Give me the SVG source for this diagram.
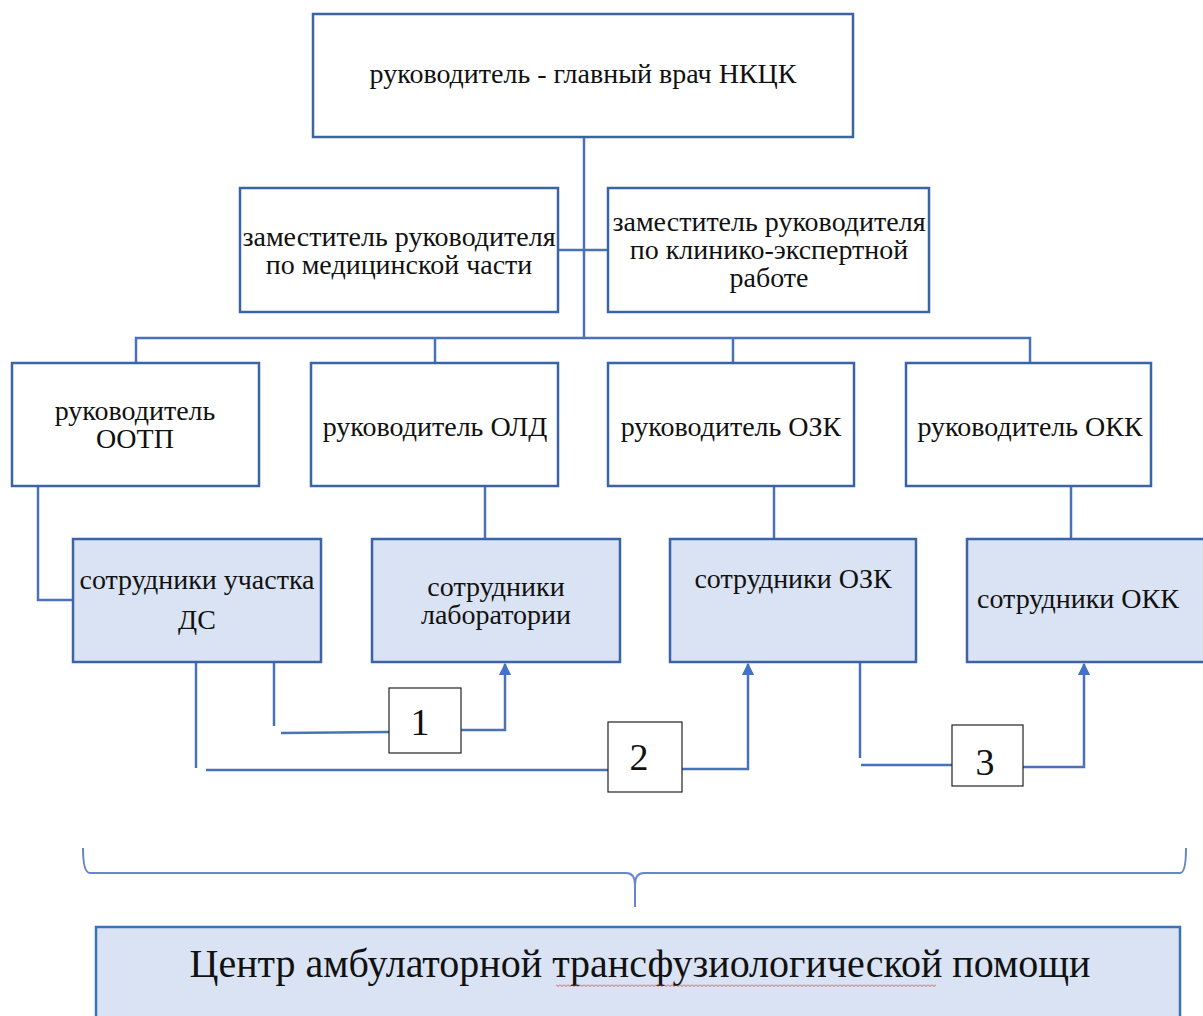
<svg xmlns="http://www.w3.org/2000/svg" width="1203" height="1016" viewBox="0 0 1203 1016">
<style>
.box{fill:#ffffff;stroke:#3b64a8;stroke-width:2.5}
.sbox{fill:#dae3f3;stroke:#3b64a8;stroke-width:2.5}
.nbox{fill:#ffffff;stroke:#222222;stroke-width:1.2}
.ln{fill:none;stroke:#4a72b8;stroke-width:2.5}
</style>
<defs>
<marker id="arr" viewBox="0 0 10 10" refX="9" refY="5" markerWidth="5" markerHeight="5" orient="auto" markerUnits="strokeWidth">
<path d="M0,0 L10,5 L0,10 z" fill="#4472c4"/>
</marker>
<pattern id="wavy" x="0" y="0" width="4" height="4" patternUnits="userSpaceOnUse">
<path d="M0,0.5 L2,2.5 L4,0.5" fill="none" stroke="#d04040" stroke-width="0.9"/>
</pattern>
</defs>
<rect width="1203" height="1016" fill="#ffffff"/>

<g id="connectors">
<path class="ln" d="M584,137 V338"/>
<path class="ln" d="M558,250 H608"/>
<path class="ln" d="M136,363 V338 H1030 V363"/>
<path class="ln" d="M435,338 V363"/>
<path class="ln" d="M733,338 V363"/>
<path class="ln" d="M38,486 V600 H73"/>
<path class="ln" d="M485,486 V539"/>
<path class="ln" d="M774,486 V539"/>
<path class="ln" d="M1071,486 V539"/>
<path class="ln" d="M274,662 V726"/>
<path class="ln" d="M281,733 L389,732"/>
<path class="ln" d="M461,730 H505 V664" marker-end="url(#arr)"/>
<path class="ln" d="M196,662 V768"/>
<path class="ln" d="M206,770 H608"/>
<path class="ln" d="M682,769 H748 V664" marker-end="url(#arr)"/>
<path class="ln" d="M860,662 V758"/>
<path class="ln" d="M861,765 H952"/>
<path class="ln" d="M1023,767 H1084 V664" marker-end="url(#arr)"/>
<path fill="none" stroke="#6a86c8" stroke-width="2" d="M83,848 Q83,873 90,873 H626 Q635,873 635,885 V907 M635,885 Q635,873 644,873 H1180 Q1186,873 1186,848"/>
</g>

<g id="n-head"><rect class="box" x="313" y="14" width="540" height="123"/><text x="583" y="83" font-family="Liberation Serif" font-size="28" fill="#111" text-anchor="middle">руководитель - главный врач НКЦК</text></g>
<g id="n-dep-med"><rect class="box" x="240" y="188" width="318" height="124"/><text x="399" y="246" font-family="Liberation Serif" font-size="28" fill="#111" text-anchor="middle">заместитель руководителя</text><text x="399" y="274" font-family="Liberation Serif" font-size="28" fill="#111" text-anchor="middle">по медицинской части</text></g>
<g id="n-dep-kli"><rect class="box" x="608" y="188" width="321" height="124"/><text x="769" y="231" font-family="Liberation Serif" font-size="28" fill="#111" text-anchor="middle">заместитель руководителя</text><text x="769" y="259" font-family="Liberation Serif" font-size="28" fill="#111" text-anchor="middle">по клинико-экспертной</text><text x="769" y="287" font-family="Liberation Serif" font-size="28" fill="#111" text-anchor="middle">работе</text></g>

<g id="n-ootp"><rect class="box" x="12" y="363" width="247" height="123"/><text x="135" y="420" font-family="Liberation Serif" font-size="28" fill="#111" text-anchor="middle">руководитель</text><text x="135" y="448" font-family="Liberation Serif" font-size="28" fill="#111" text-anchor="middle">ООТП</text></g>
<g id="n-old"><rect class="box" x="311" y="363" width="247" height="123"/><text x="435" y="436" font-family="Liberation Serif" font-size="28" fill="#111" text-anchor="middle">руководитель ОЛД</text></g>
<g id="n-ozk"><rect class="box" x="608" y="363" width="246" height="123"/><text x="731" y="436" font-family="Liberation Serif" font-size="28" fill="#111" text-anchor="middle">руководитель ОЗК</text></g>
<g id="n-okk"><rect class="box" x="906" y="363" width="245" height="123"/><text x="1030" y="436" font-family="Liberation Serif" font-size="28" fill="#111" text-anchor="middle">руководитель ОКК</text></g>

<g id="n-ds"><rect class="sbox" x="73" y="539" width="248" height="123"/><text x="197" y="589" font-family="Liberation Serif" font-size="28" fill="#111" text-anchor="middle">сотрудники участка</text><text x="197" y="629" font-family="Liberation Serif" font-size="28" fill="#111" text-anchor="middle">ДС</text></g>
<g id="n-lab"><rect class="sbox" x="372" y="539" width="248" height="123"/><text x="496" y="596" font-family="Liberation Serif" font-size="28" fill="#111" text-anchor="middle">сотрудники</text><text x="496" y="624" font-family="Liberation Serif" font-size="28" fill="#111" text-anchor="middle">лаборатории</text></g>
<g id="n-ozk-s"><rect class="sbox" x="670" y="539" width="246" height="123"/><text x="793" y="588" font-family="Liberation Serif" font-size="28" fill="#111" text-anchor="middle">сотрудники ОЗК</text></g>
<g id="n-okk-s"><rect class="sbox" x="967" y="539" width="246" height="123"/><text x="1078" y="608" font-family="Liberation Serif" font-size="28" fill="#111" text-anchor="middle">сотрудники ОКК</text></g>

<g id="n-1"><rect class="nbox" x="389" y="688" width="72" height="65"/><text x="420" y="735" font-family="Liberation Serif" font-size="38" fill="#111" text-anchor="middle">1</text></g>
<g id="n-2"><rect class="nbox" x="608" y="722" width="74" height="70"/><text x="639" y="770" font-family="Liberation Serif" font-size="38" fill="#111" text-anchor="middle">2</text></g>
<g id="n-3"><rect class="nbox" x="952" y="725" width="71" height="61"/><text x="985" y="775" font-family="Liberation Serif" font-size="38" fill="#111" text-anchor="middle">3</text></g>

<g id="n-center"><rect x="96" y="927" width="1084" height="100" fill="#dae3f3" stroke="#3a74b0" stroke-width="2.5"/><text x="640" y="977" font-family="Liberation Serif" font-size="40" fill="#111" text-anchor="middle">Центр амбулаторной трансфузиологической помощи</text>
<rect x="556" y="984" width="380" height="3" fill="url(#wavy)"/>
</g>
</svg>
